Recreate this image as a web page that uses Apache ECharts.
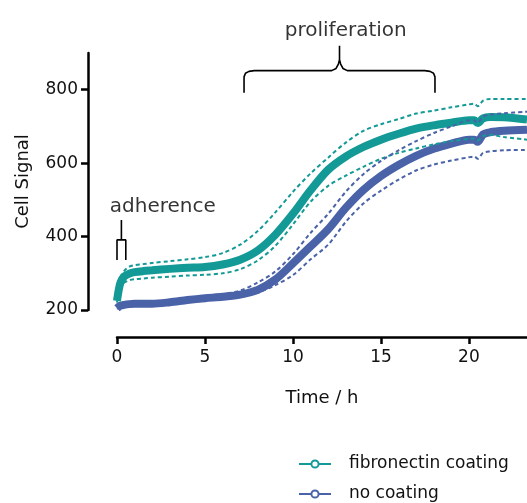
<!DOCTYPE html>
<html><head><meta charset="utf-8">
<script src="https://cdn.jsdelivr.net/npm/echarts@6/dist/echarts.min.js"></script>
<style>html,body{margin:0;padding:0;background:#fff}#c{width:527px;height:503px}</style>
</head><body><div id="c"></div>
<script>
var time = [0,0.1,0.2,0.4,0.7,1,1.5,2,3,4,5,6,7,8,9,10,11,12,13,14,15,16,17,18,19,20,20.3,20.5,20.8,21.2,22,23.3];
var fibroMean  = [225,255,275,291,299,303,306,308,312,315,317,324,337,362,405,462,526,582,618,644,664,680,694,703,710,717,717,709,722,726,725,719];
var fibroUpper = [232,268,290,306,318,322,325,328,333,338,344,355,378,415,466,522,572,615,656,688,706,720,735,743,752,760,762,755,770,775,775,775];
var fibroLower = [220,245,260,274,281,284,286,288,291,294,296,300,311,335,375,433,495,538,566,590,612,628,640,651,660,666,667,662,674,677,671,664];
var noneMean  = [205,209,212,214,216,217,217,217,221,227,232,236,242,255,283,327,373,420,478,527,565,595,620,639,653,664,664,658,678,684,688,691];
var noneUpper = [208,212,215,218,220,221,221,222,226,232,238,243,253,275,305,352,410,462,522,570,606,635,660,682,700,716,716,710,727,732,736,740];
var noneLower = [203,206,209,211,212,213,213,213,217,222,227,231,236,247,268,295,338,378,440,490,525,555,580,596,607,616,618,612,628,632,635,636];
var xTicks = [0,5,10,15,20];
var yTicks = [200,400,600,800];
var seriesNames = ['fibronectin coating','no coating'];
var adherenceBracket = [[0,336],[0,391],[0.5,391],[0.5,336],[0.25,'-'],[0.25,391],[0.25,445]];
var proliferationBrace = [[7.22,792],[7.22,835],[7.3,845],[7.5,850],[7.8,852],[12.2,852],[12.45,858],[12.58,870],[12.645,882],[12.645,920],[12.645,'-'],[12.645,882],[12.71,870],[12.84,858],[13.09,852],[17.49,852],[17.79,850],[17.99,845],[18.07,835],[18.07,792]];
var annotations = [{text:'adherence', t:2.6, v:481},{text:'proliferation', t:13.0, v:961}];

var teal = '#139a96', blue = '#4a63a8';
function pairs(v){ return time.map(function(t,i){return [t,v[i]];}); }
var font = 'DejaVu Sans';
var ink = '#111';
function solid(name, v, color){
  return {name:name, type:'line', data:pairs(v), showSymbol:false, symbol:'emptyCircle', symbolSize:6,
    lineStyle:{width:8,color:color}, itemStyle:{color:color}, smooth:0.3, z:2, animation:false};
}
function dashed(name, v, color){
  return {name:name, type:'line', data:pairs(v), showSymbol:false, symbol:'none',
    lineStyle:{width:2,color:color,type:[4,3]}, smooth:0.3, z:3, animation:false, legendHoverLink:false};
}
function legendItem(name, top){
  return {data:[name],left:293,top:top,itemWidth:32,itemHeight:9,
    textStyle:{fontSize:17,color:ink,fontFamily:font,lineHeight:20,padding:[0,0,0,13]},
    lineStyle:{width:2}};
}
var chart = echarts.init(document.getElementById('c'), null, {renderer:'canvas'});
chart.setOption({
  animation:false,
  textStyle:{fontFamily:font},
  grid:{left:117,right:0,top:53,bottom:193},
  xAxis:{type:'value',min:0,max:23.3,offset:27,
    axisLine:{onZero:false,lineStyle:{color:'#000',width:2.5}},
    axisTick:{show:true,length:7,lineStyle:{width:2.5,color:'#000'},customValues:xTicks},
    axisLabel:{customValues:xTicks,color:ink,fontSize:17,fontFamily:font,margin:12},
    splitLine:{show:false},
    name:'Time / h',nameLocation:'middle',nameGap:52,nameTextStyle:{fontSize:18,color:ink,fontFamily:font}},
  yAxis:{type:'value',min:200,max:900,offset:29,
    axisLine:{show:true,onZero:false,lineStyle:{color:'#000',width:2.5}},
    axisTick:{show:true,length:7,lineStyle:{width:2.5,color:'#000'},customValues:yTicks},
    axisLabel:{customValues:yTicks,color:ink,fontSize:17,fontFamily:font,margin:10},
    splitLine:{show:false},
    name:'Cell Signal',nameLocation:'middle',nameGap:56,nameTextStyle:{fontSize:18,color:ink,fontFamily:font}},
  legend:[legendItem(seriesNames[0],449), legendItem(seriesNames[1],479)],
  series:[
    solid(seriesNames[1], noneMean, blue),
    solid(seriesNames[0], fibroMean, teal),
    dashed('fibro upper', fibroUpper, teal),
    dashed('fibro lower', fibroLower, teal),
    dashed('none upper', noneUpper, blue),
    dashed('none lower', noneLower, blue),
    {name:'adherence bracket',type:'line',data:adherenceBracket,showSymbol:false,symbol:'none',clip:false,
      lineStyle:{width:1.6,color:'#000'},connectNulls:false,silent:true},
    {name:'proliferation brace',type:'line',data:proliferationBrace,showSymbol:false,symbol:'none',clip:false,
      lineStyle:{width:1.6,color:'#000'},connectNulls:false,silent:true},
    {name:'labels',type:'scatter',clip:false,symbolSize:0,silent:true,
      data:annotations.map(function(a){return {value:[a.t,a.v],label:{show:true,formatter:a.text,position:'inside',fontSize:20,color:'#000',fontFamily:font}};})}
  ]
});
</script></body></html>
